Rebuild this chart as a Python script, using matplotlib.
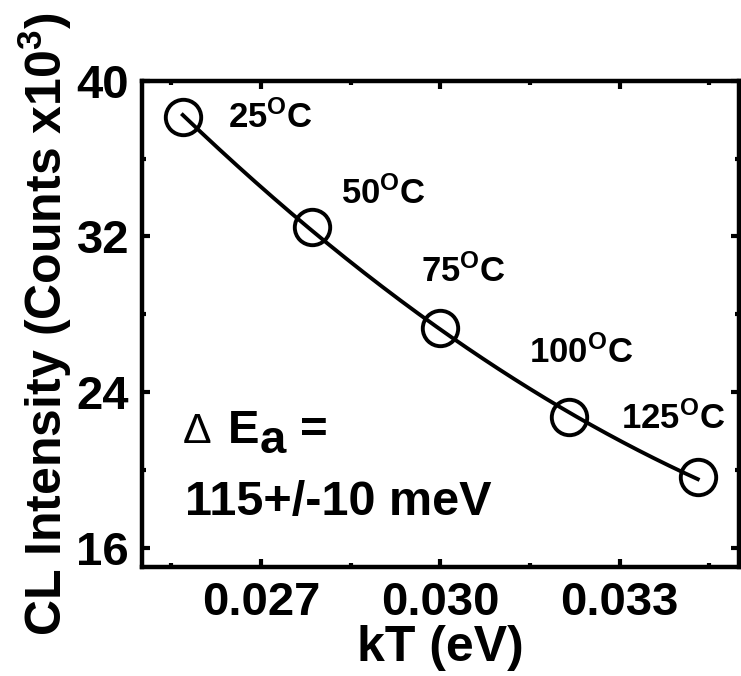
import numpy as np
import matplotlib
matplotlib.use("Agg")
import matplotlib.pyplot as plt
from matplotlib.ticker import MultipleLocator

plt.rcParams['font.family'] = ['Liberation Sans', 'DejaVu Sans']
plt.rcParams['font.weight'] = 'bold'
plt.rcParams['mathtext.fontset'] = 'custom'
plt.rcParams['mathtext.rm'] = 'Liberation Sans:bold'
plt.rcParams['mathtext.bf'] = 'Liberation Sans:bold'
plt.rcParams['mathtext.it'] = 'Liberation Sans:bold'

# data
kT = [0.02569, 0.02785, 0.03000, 0.03216, 0.03431]
intensity = [38.15, 32.48, 27.28, 22.70, 19.64]
temps = ['25', '50', '75', '100', '125']
x_ticks = [0.027, 0.030, 0.033]
x_ticklabels = ['0.027', '0.030', '0.033']
y_ticks = [16, 24, 32, 40]

fig = plt.figure(figsize=(7.41, 6.76), dpi=100)
ax = fig.add_axes([0.191, 0.161, 0.8063, 0.7194])

# smooth fit curve through the data
coef = np.polyfit(kT, intensity, 2)
xf = np.linspace(kT[0], kT[-1], 200)
ax.plot(xf, np.polyval(coef, xf), color='black', lw=2.8, zorder=2)
ax.plot(kT, intensity, 'o', ms=25.5, mfc='none', mec='black', mew=2.8, zorder=3)

offsets = [(45, -11), (29, 23), (-19, 46), (-40, 55), (-77, 48)]
for t, x, y, off in zip(temps, kT, intensity, offsets):
    ax.annotate(t + r'$^{\mathregular{O}}$C', (x, y), xytext=off,
                textcoords='offset pixels', fontsize=25, fontweight='bold',
                ha='left', va='baseline')

ax.set_xlim(0.025, 0.035)
ax.set_ylim(15, 40)
ax.set_xticks(x_ticks)
ax.set_xticklabels(x_ticklabels)
ax.set_yticks(y_ticks)
ax.xaxis.set_minor_locator(MultipleLocator(0.0015))
ax.yaxis.set_minor_locator(MultipleLocator(4))
ax.tick_params(which='both', direction='in', top=True, right=True,
               labelsize=34, width=3)
ax.tick_params(which='major', length=6)
ax.tick_params(which='minor', length=3)
ax.tick_params(axis='x', pad=10)
ax.tick_params(axis='y', pad=9)
for s in ax.spines.values():
    s.set_linewidth(3.2)
for lab in ax.get_xticklabels() + ax.get_yticklabels():
    lab.set_fontweight('bold')

ax.set_xlabel('kT (eV)', fontsize=36, fontweight='bold', labelpad=0)
ax.set_ylabel(r'CL Intensity (Counts x10$^{\mathregular{3}}$)', fontsize=36,
              fontweight='bold', labelpad=2)

ax.text(0.069, 0.255, 'Δ', transform=ax.transAxes, fontsize=31,
        fontweight='normal', ha='left', va='baseline')
ax.text(0.1445, 0.255, 'E', transform=ax.transAxes, fontsize=34,
        fontweight='bold', ha='left', va='baseline')
ax.text(0.198, 0.235, 'a', transform=ax.transAxes, fontsize=34,
        fontweight='bold', ha='left', va='baseline')
ax.text(0.265, 0.255, '=', transform=ax.transAxes, fontsize=34,
        fontweight='bold', ha='left', va='baseline')
ax.text(0.072, 0.107, '115+/-10 meV', transform=ax.transAxes, fontsize=35,
        fontweight='bold', ha='left', va='baseline')

fig.savefig('out.png', dpi=100)
